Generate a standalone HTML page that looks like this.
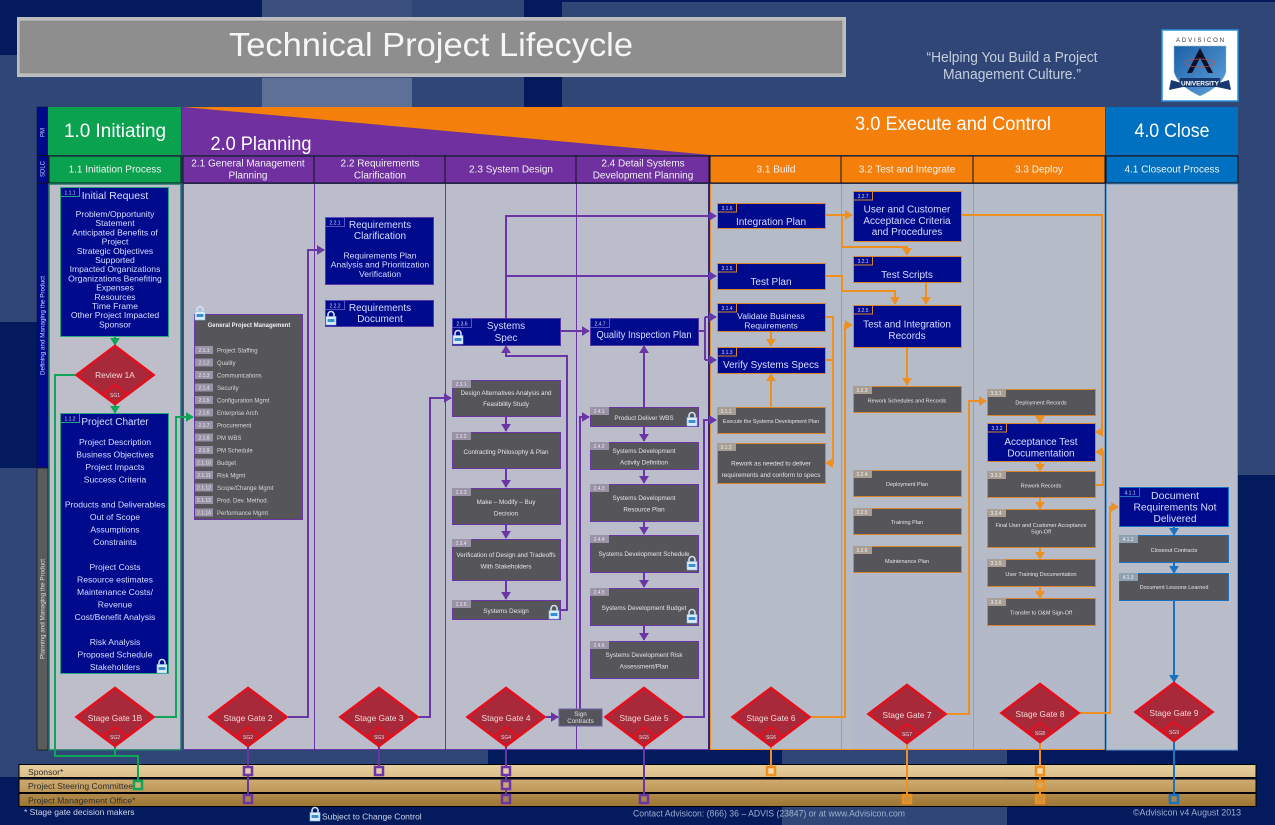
<!DOCTYPE html>
<html><head><meta charset="utf-8"><title>Technical Project Lifecycle</title>
<style>
html,body{margin:0;padding:0;background:#2f4676}
svg{display:block}
text{font-family:"Liberation Sans",sans-serif}
.c{text-anchor:middle}
.bt{fill:#d9ddff;font-size:10px;text-anchor:middle}
.bl{fill:#d9ddff;font-size:8.6px;text-anchor:middle}
.gt{fill:#e6e6e6;font-size:6.3px;text-anchor:middle}
.tg{fill:#d6d6f6;font-size:5px;text-anchor:middle}
.hd{fill:#f2f2f2;font-size:10px;text-anchor:middle}
.gl{fill:#f0d8d8;font-size:8.3px;text-anchor:middle}
.sg{fill:#f0d8d8;font-size:5px;text-anchor:middle}
.li{fill:#d8d8d8;font-size:6px}
.lane{fill:#2f2f2f;font-size:8.6px}
.gr{fill:none;stroke:#0fa65a;stroke-width:2}
.pu{fill:none;stroke:#6a35a5;stroke-width:2}
.or{fill:none;stroke:#ee8f22;stroke-width:2}
.bu{fill:none;stroke:#1b72c0;stroke-width:2}
</style></head>
<body>
<svg width="1275" height="825" viewBox="0 0 1275 825" xmlns="http://www.w3.org/2000/svg">
<defs>
<marker id="ag" markerWidth="4" markerHeight="5" refX="3.6" refY="2.5" orient="auto" markerUnits="strokeWidth"><path d="M0 0L4 2.5L0 5z" fill="#0fa65a"/></marker>
<marker id="ap" markerWidth="4" markerHeight="5" refX="3.6" refY="2.5" orient="auto" markerUnits="strokeWidth"><path d="M0 0L4 2.5L0 5z" fill="#6a35a5"/></marker>
<marker id="ao" markerWidth="4" markerHeight="5" refX="3.6" refY="2.5" orient="auto" markerUnits="strokeWidth"><path d="M0 0L4 2.5L0 5z" fill="#ee8f22"/></marker>
<marker id="ab" markerWidth="4" markerHeight="5" refX="3.6" refY="2.5" orient="auto" markerUnits="strokeWidth"><path d="M0 0L4 2.5L0 5z" fill="#1b72c0"/></marker>
<g id="gate">
<polygon points="-38.500,0 0,-29 38.500,0 0,29" fill="#a82a3a" stroke="#e2101e" stroke-width="2.6" stroke-linejoin="miter"/>
<polygon points="-11.500,19 0,10 11.500,19 0,29" fill="#a82a3a" stroke="#e2101e" stroke-width="2.2"/>
</g>
<g id="lock">
<path d="M-3-1V-3.5A3 3 0 0 1 3-3.5V-1" fill="none" stroke="#cfe2f5" stroke-width="1.6"/>
<rect x="-5" y="-1.5" width="10" height="8.5" fill="#dcebf8" stroke="#8cc0e8" stroke-width=".6"/>
<rect x="-3.4" y="1" width="6.8" height="3" fill="#3b8fd0"/>
</g>
<linearGradient id="bar1" x1="0" y1="0" x2="0" y2="1"><stop offset="0" stop-color="#e6cf9f"/><stop offset="1" stop-color="#dcc08a"/></linearGradient>
<linearGradient id="bar2" x1="0" y1="0" x2="0" y2="1"><stop offset="0" stop-color="#cfab72"/><stop offset="1" stop-color="#bd9757"/></linearGradient>
<linearGradient id="bar3" x1="0" y1="0" x2="0" y2="1"><stop offset="0" stop-color="#b28a4a"/><stop offset="1" stop-color="#9c7535"/></linearGradient>
<linearGradient id="shield" x1="0" y1="0" x2="1" y2="1"><stop offset="0" stop-color="#1d5fa8"/><stop offset="1" stop-color="#5fa3dc"/></linearGradient>
</defs>

<!-- background -->
<rect width="1275" height="825" fill="#2f4676"/>
<rect x="0" y="0" width="262" height="55" fill="#031a5c"/>
<rect x="262" y="0" width="150" height="78" fill="#3a4f7e"/>
<rect x="262" y="78" width="150" height="29" fill="#5f7096"/>
<rect x="524" y="0" width="38" height="107" fill="#031a5c"/>
<rect x="562" y="0" width="713" height="2" fill="#031a5c"/>
<rect x="0" y="322" width="37" height="146" fill="#031a5c"/>
<rect x="0" y="777" width="782" height="48" fill="#031a5c"/>
<rect x="488" y="750" width="294" height="30" fill="#031a5c"/>
<rect x="1007" y="750" width="268" height="75" fill="#031a5c"/>
<rect x="1238" y="475" width="37" height="280" fill="#031a5c"/>

<!-- title -->
<rect x="17" y="17" width="829" height="60" fill="#bdbdbd"/>
<rect x="20" y="21" width="822" height="52" fill="#8e8e8e" stroke="#808080" stroke-width=".5"/>
<text x="431" y="56" class="c" fill="#f6f6f6" font-size="33" textLength="404" lengthAdjust="spacingAndGlyphs">Technical Project Lifecycle</text>
<text x="1012" y="62" class="c" fill="#c6cede" font-size="14.5" textLength="171" lengthAdjust="spacingAndGlyphs">“Helping You Build a Project</text>
<text x="1012" y="79" class="c" fill="#c6cede" font-size="14.5" textLength="138" lengthAdjust="spacingAndGlyphs">Management Culture.”</text>

<!-- logo -->
<rect x="1162" y="30" width="76" height="71" fill="#fff" stroke="#2a8fd8" stroke-width="1.5"/>
<text x="1200" y="42" class="c" fill="#333" font-size="6" textLength="48">ADVISICON</text>
<path d="M1174 46H1226V72Q1222 86 1200 96Q1178 86 1174 72Z" fill="url(#shield)" stroke="#9bb" stroke-width=".5"/>
<polygon points="1200,48 1187,73 1192,73 1200,58 1208,73 1213,73" fill="#0b0f28"/>
<ellipse cx="1200" cy="63" rx="15" ry="4" fill="none" stroke="#c05050" stroke-width=".8"/>
<polygon points="1171,80 1185,84 1215,84 1229,80 1231,90 1217,87 1183,87 1169,90" fill="#16386e"/>
<rect x="1180" y="78" width="40" height="9" fill="#16386e"/>
<text x="1200" y="85.5" class="c" fill="#fff" font-size="6.5" font-weight="bold" textLength="38">UNIVERSITY</text>

<!-- left strip -->
<rect x="37" y="107" width="11" height="361" fill="#000a8a" stroke="#0a0a30" stroke-width=".5"/>
<rect x="37" y="468" width="11" height="282" fill="#5b5b5b" stroke="#1a1a1a" stroke-width=".8"/>
<line x1="37" y1="155.500" x2="48" y2="155.500" stroke="#111"/>
<line x1="37" y1="183" x2="48" y2="183" stroke="#111"/>
<text transform="translate(44.500,137) rotate(-90)" fill="#cfd3ff" font-size="6">PM</text>
<text transform="translate(44.500,177) rotate(-90)" fill="#cfd3ff" font-size="6">SDLC</text>
<text transform="translate(44.500,375) rotate(-90)" fill="#cfd3ff" font-size="6.4" textLength="99" lengthAdjust="spacingAndGlyphs">Defining and Managing the Product</text>
<text transform="translate(44.500,659) rotate(-90)" fill="#dcdcdc" font-size="6.4" textLength="100" lengthAdjust="spacingAndGlyphs">Planning and Managing the Product</text>

<!-- phase headers -->
<rect x="48" y="107" width="133" height="48" fill="#0aa14f"/>
<polygon points="182,107 1105,107 1105,155 710,155" fill="#f47f0a"/>
<polygon points="182,107 710,155 182,155" fill="#7030a0"/>
<rect x="1106" y="107" width="132" height="48" fill="#0070c0"/>
<text x="115" y="137" class="c" fill="#fff" font-size="19.500" textLength="102" lengthAdjust="spacingAndGlyphs">1.0 Initiating</text>
<text x="261" y="150" class="c" fill="#fff" font-size="19.500" textLength="101" lengthAdjust="spacingAndGlyphs">2.0 Planning</text>
<text x="953" y="130" class="c" fill="#fff" font-size="19" textLength="196" lengthAdjust="spacingAndGlyphs">3.0 Execute and Control</text>
<text x="1172" y="137" class="c" fill="#fff" font-size="19.500" textLength="75" lengthAdjust="spacingAndGlyphs">4.0 Close</text>

<!-- sub headers -->
<g stroke="#10101a" stroke-width="1">
<rect x="49" y="156" width="132" height="27" fill="#0aa14f"/>
<rect x="183" y="156" width="131" height="27" fill="#7030a0"/>
<rect x="314" y="156" width="131" height="27" fill="#7030a0"/>
<rect x="445" y="156" width="131" height="27" fill="#7030a0"/>
<rect x="576" y="156" width="133" height="27" fill="#7030a0"/>
<rect x="710" y="156" width="131" height="27" fill="#f47f0a"/>
<rect x="841" y="156" width="132" height="27" fill="#f47f0a"/>
<rect x="973" y="156" width="132" height="27" fill="#f47f0a"/>
<rect x="1106" y="156" width="132" height="27" fill="#0070c0"/>
</g>
<text x="115" y="172.500" class="hd">1.1 Initiation Process</text>
<text x="248" y="166.500" class="hd">2.1 General Management</text>
<text x="248" y="178.500" class="hd">Planning</text>
<text x="380" y="166.500" class="hd">2.2 Requirements</text>
<text x="380" y="178.500" class="hd">Clarification</text>
<text x="511" y="172.500" class="hd">2.3 System Design</text>
<text x="643" y="166.500" class="hd">2.4 Detail Systems</text>
<text x="643" y="178.500" class="hd">Development Planning</text>
<text x="776" y="172.500" class="hd">3.1 Build</text>
<text x="907" y="172.500" class="hd">3.2 Test and Integrate</text>
<text x="1039" y="172.500" class="hd">3.3 Deploy</text>
<text x="1172" y="172.500" class="hd">4.1 Closeout Process</text>

<!-- panels -->
<rect x="49" y="184" width="132" height="566" fill="#bdbec9" stroke="#1d7a6a" stroke-width="1.500"/>
<rect x="183" y="184" width="526" height="566" fill="#bcbdca"/>
<rect x="710" y="184" width="395" height="566" fill="#b6bbc8"/>
<rect x="1106" y="184" width="132" height="566" fill="#b9bcc9"/>
<rect x="853" y="560" width="252" height="190" fill="#b0b8c8" opacity=".5"/>
<g fill="none" stroke-width="1">
<line x1="183.500" y1="184" x2="183.500" y2="750" stroke="#6a35a5"/>
<line x1="183" y1="749.500" x2="709" y2="749.500" stroke="#6a35a5"/>
<line x1="314.500" y1="184" x2="314.500" y2="750" stroke="#6a35a5"/>
<line x1="445.500" y1="184" x2="445.500" y2="750" stroke="#6a35a5"/>
<line x1="576.500" y1="184" x2="576.500" y2="750" stroke="#6a35a5"/>
<line x1="709" y1="184" x2="709" y2="750" stroke="#2a2580" stroke-width="2"/>
<line x1="710.500" y1="184" x2="710.500" y2="750" stroke="#ee8f22"/>
<line x1="841.500" y1="184" x2="841.500" y2="750" stroke="#ee8f22"/>
<line x1="973.500" y1="184" x2="973.500" y2="750" stroke="#ee8f22"/>
<line x1="710" y1="749.500" x2="1105" y2="749.500" stroke="#ee8f22"/>
<line x1="1105.500" y1="184" x2="1105.500" y2="750" stroke="#303a50" stroke-width="1.500"/>
<rect x="1106.500" y="184" width="131" height="566" stroke="#5da0d8"/>
</g>

<!-- swimlanes -->
<rect x="19" y="764.500" width="1237" height="13" fill="url(#bar1)" stroke="#000"/>
<rect x="19" y="779" width="1237" height="13.500" fill="url(#bar2)" stroke="#000"/>
<rect x="19" y="793.500" width="1237" height="13" fill="url(#bar3)" stroke="#000"/>
<text x="28" y="775" class="lane">Sponsor*</text>
<text x="28" y="789" class="lane">Project Steering Committee*</text>
<text x="28" y="803.500" class="lane">Project Management Office*</text>

<!-- connectors -->
<g class="gr">
<path d="M115 336V345" class="gr" marker-end="url(#ag)"/>
<path d="M115 405V413" class="gr" marker-end="url(#ag)"/>
<path d="M75 375H55V756H138V780" class="gr"/>
<path d="M115 747V756" class="gr"/>
<path d="M155 717H176V417H193" class="gr" marker-end="url(#ag)"/>
</g>
<g>
<path d="M248 747V799" class="pu"/>
<path d="M379 747V771" class="pu"/>
<path d="M506 747V799" class="pu"/>
<path d="M644 747V799" class="pu"/>
<path d="M288 717H308V250H324" class="pu" marker-end="url(#ap)"/>
<path d="M419 717H430V398H451" class="pu" marker-end="url(#ap)"/>
<path d="M546 717H558" class="pu" marker-end="url(#ap)"/>
<path d="M580 709V417H589" class="pu" marker-end="url(#ap)"/>
<path d="M684 717H704V420H716" class="pu" marker-end="url(#ap)"/>
<path d="M506 318V216H716" class="pu" marker-end="url(#ap)"/>
<path d="M506 276H716" class="pu" marker-end="url(#ap)"/>
<path d="M561 331H589" class="pu" marker-end="url(#ap)"/>
<path d="M699 331H705" class="pu"/>
<path d="M705 317V360" class="pu"/>
<path d="M705 317H716" class="pu" marker-end="url(#ap)"/>
<path d="M705 360H716" class="pu" marker-end="url(#ap)"/>
<path d="M561 610H567V356H506V346" class="pu" marker-end="url(#ap)"/>
<path d="M506 416V431" class="pu" marker-end="url(#ap)"/>
<path d="M506 468V487" class="pu" marker-end="url(#ap)"/>
<path d="M506 524V538" class="pu" marker-end="url(#ap)"/>
<path d="M506 580V599" class="pu" marker-end="url(#ap)"/>
<path d="M644 407V346" class="pu" marker-end="url(#ap)"/>
<path d="M644 345V350" class="pu"/>
<path d="M644 427V441" class="pu" marker-end="url(#ap)"/>
<path d="M644 469V483" class="pu" marker-end="url(#ap)"/>
<path d="M644 521V534" class="pu" marker-end="url(#ap)"/>
<path d="M644 572V587" class="pu" marker-end="url(#ap)"/>
<path d="M644 625V640" class="pu" marker-end="url(#ap)"/>
</g>
<g>
<path d="M771 747V771" class="or"/>
<path d="M907 744V799" class="or"/>
<path d="M1040 743V799" class="or"/>
<path d="M771 331V346" class="or" marker-end="url(#ao)"/>
<path d="M771 407V374" class="or" marker-end="url(#ao)"/>
<path d="M825 215H852" class="or" marker-end="url(#ao)"/>
<path d="M842 215V247H907V255" class="or" marker-end="url(#ao)"/>
<path d="M825 276H842V291H895V304" class="or" marker-end="url(#ao)"/>
<path d="M926 282V304" class="or" marker-end="url(#ao)"/>
<path d="M825 317H833V463H826" class="or" marker-end="url(#ao)"/>
<path d="M825 360H833" class="or"/>
<path d="M811 717H845V325H852" class="or" marker-end="url(#ao)"/>
<path d="M947 714H969V401H986" class="or" marker-end="url(#ao)"/>
<path d="M1080 713H1110V507H1118" class="or" marker-end="url(#ao)"/>
<path d="M907 347V385" class="or" marker-end="url(#ao)"/>
<path d="M961 215H1102V432H1096" class="or" marker-end="url(#ao)"/>
<path d="M1095 485H1103V452H1096" class="or" marker-end="url(#ao)"/>
<path d="M1040 415V423" class="or" marker-end="url(#ao)"/>
<path d="M1040 461V471" class="or" marker-end="url(#ao)"/>
<path d="M1040 497V509" class="or" marker-end="url(#ao)"/>
<path d="M1040 547V559" class="or" marker-end="url(#ao)"/>
<path d="M1040 586V598" class="or" marker-end="url(#ao)"/>
</g>
<g>
<path d="M1174 526V535" class="bu" marker-end="url(#ab)"/>
<path d="M1174 562V573" class="bu" marker-end="url(#ab)"/>
<path d="M1174 600V682" class="bu" marker-end="url(#ab)"/>
<path d="M1174 741V799" class="bu"/>
</g>

<!-- lane squares -->
<g stroke-width="2.500">
<rect x="134" y="781" width="8" height="8" fill="#cdb27a" stroke="#0fa65a"/>
<g stroke="#6a35a5">
<rect x="244" y="767" width="8" height="8" fill="#e2c8b0"/><rect x="244" y="795" width="8" height="8" fill="#a8824c"/>
<rect x="375" y="767" width="8" height="8" fill="#e2c8b0"/>
<rect x="502" y="767" width="8" height="8" fill="#e2c8b0"/><rect x="502" y="781" width="8" height="8" fill="#c8a878"/><rect x="502" y="795" width="8" height="8" fill="#a8824c"/>
<rect x="640" y="795" width="8" height="8" fill="#a8824c"/>
</g>
<g stroke="#ee8f22">
<rect x="767" y="767" width="8" height="8" fill="#f0d8a8"/>
<rect x="903" y="795" width="8" height="8" fill="#c8923e"/>
<rect x="1036" y="767" width="8" height="8" fill="#f0d8a8"/><rect x="1036" y="781" width="8" height="8" fill="#d0a860"/><rect x="1036" y="795" width="8" height="8" fill="#c8923e"/>
</g>
<rect x="1170" y="795" width="8" height="8" stroke="#1b72c0" fill="#a8824c"/>
</g>

<!-- gates -->
<use href="#gate" transform="translate(115,375)"/>
<use href="#gate" transform="translate(115,717)"/>
<use href="#gate" transform="translate(248,717)"/>
<use href="#gate" transform="translate(379,717)"/>
<use href="#gate" transform="translate(506,717)"/>
<use href="#gate" transform="translate(644,717)"/>
<use href="#gate" transform="translate(771,717)"/>
<use href="#gate" transform="translate(907,714)"/>
<use href="#gate" transform="translate(1040,713)"/>
<use href="#gate" transform="translate(1174,712)"/>
<text x="115" y="378" class="gl">Review 1A</text><text x="115" y="397" class="sg">SG1</text>
<text x="115" y="721" class="gl">Stage Gate 1B</text><text x="115" y="739" class="sg">SG2</text>
<text x="248" y="721" class="gl">Stage Gate 2</text><text x="248" y="739" class="sg">SG2</text>
<text x="379" y="721" class="gl">Stage Gate 3</text><text x="379" y="739" class="sg">SG3</text>
<text x="506" y="721" class="gl">Stage Gate 4</text><text x="506" y="739" class="sg">SG4</text>
<text x="644" y="721" class="gl">Stage Gate 5</text><text x="644" y="739" class="sg">SG5</text>
<text x="771" y="721" class="gl">Stage Gate 6</text><text x="771" y="739" class="sg">SG6</text>
<text x="907" y="718" class="gl">Stage Gate 7</text><text x="907" y="736" class="sg">SG7</text>
<text x="1040" y="717" class="gl">Stage Gate 8</text><text x="1040" y="735" class="sg">SG8</text>
<text x="1174" y="716" class="gl">Stage Gate 9</text><text x="1174" y="734" class="sg">SG9</text>

<!-- sign contracts -->
<rect x="559" y="709" width="43" height="17" fill="#55545c" stroke="#6a5fa5"/>
<text x="580.500" y="716" class="gt" style="font-size:6.200px">Sign</text>
<text x="580.500" y="723" class="gt" style="font-size:6.200px">Contracts</text>

<!-- green boxes -->
<rect x="60.500" y="187.500" width="108" height="149" fill="#000a8c" stroke="#2aa57e"/>
<rect x="60.500" y="187.500" width="19" height="9" fill="none" stroke="#2aa57e"/>
<text x="70" y="194.500" class="tg">1.1.1</text>
<text x="115" y="199" class="bt" style="font-size:10.500px">Initial Request</text>
<text x="115" y="217" class="bl">Problem/Opportunity</text>
<text x="115" y="226.200" class="bl">Statement</text>
<text x="115" y="235.400" class="bl">Anticipated Benefits of</text>
<text x="115" y="244.600" class="bl">Project</text>
<text x="115" y="253.800" class="bl">Strategic Objectives</text>
<text x="115" y="263" class="bl">Supported</text>
<text x="115" y="272.200" class="bl">Impacted Organizations</text>
<text x="115" y="281.400" class="bl">Organizations Benefiting</text>
<text x="115" y="290.600" class="bl">Expenses</text>
<text x="115" y="299.800" class="bl">Resources</text>
<text x="115" y="309" class="bl">Time Frame</text>
<text x="115" y="318.200" class="bl">Other Project Impacted</text>
<text x="115" y="327.400" class="bl">Sponsor</text>

<rect x="60.500" y="413.500" width="108" height="260" fill="#000a8c" stroke="#2aa57e"/>
<rect x="60.500" y="413.500" width="19" height="9" fill="none" stroke="#2aa57e"/>
<text x="70" y="420.500" class="tg">1.1.2</text>
<text x="115" y="425" class="bt">Project Charter</text>
<text x="115" y="445" class="bl">Project Description</text>
<text x="115" y="457.500" class="bl">Business Objectives</text>
<text x="115" y="470" class="bl">Project Impacts</text>
<text x="115" y="482.500" class="bl">Success Criteria</text>
<text x="115" y="507.500" class="bl">Products and Deliverables</text>
<text x="115" y="520" class="bl">Out of Scope</text>
<text x="115" y="532.500" class="bl">Assumptions</text>
<text x="115" y="545" class="bl">Constraints</text>
<text x="115" y="570" class="bl">Project Costs</text>
<text x="115" y="582.500" class="bl">Resource estimates</text>
<text x="115" y="595" class="bl">Maintenance Costs/</text>
<text x="115" y="607.500" class="bl">Revenue</text>
<text x="115" y="620" class="bl">Cost/Benefit Analysis</text>
<text x="115" y="645" class="bl">Risk Analysis</text>
<text x="115" y="657.500" class="bl">Proposed Schedule</text>
<text x="115" y="670" class="bl">Stakeholders</text>
<use href="#lock" transform="translate(162,666)"/>

<!-- general PM -->
<rect x="194.500" y="314.500" width="108" height="205" fill="#565559" stroke="#6a35a5"/>
<use href="#lock" transform="translate(200,313)"/>
<text x="249" y="327" class="c" fill="#eee" font-size="6" font-weight="bold">General Project Management</text>
<g fill="#9a93a8">
<rect x="195" y="346" width="18" height="8"/><rect x="195" y="358.500" width="18" height="8"/><rect x="195" y="371" width="18" height="8"/><rect x="195" y="383.500" width="18" height="8"/><rect x="195" y="396" width="18" height="8"/><rect x="195" y="408.500" width="18" height="8"/><rect x="195" y="421" width="18" height="8"/><rect x="195" y="433.500" width="18" height="8"/><rect x="195" y="446" width="18" height="8"/><rect x="195" y="458.500" width="18" height="8"/><rect x="195" y="471" width="18" height="8"/><rect x="195" y="483.500" width="18" height="8"/><rect x="195" y="496" width="18" height="8"/><rect x="195" y="508.500" width="18" height="8"/>
</g>
<g class="tg" style="fill:#e8e8e8">
<text x="204" y="352">2.1.1</text><text x="204" y="364.500">2.1.2</text><text x="204" y="377">2.1.3</text><text x="204" y="389.500">2.1.4</text><text x="204" y="402">2.1.5</text><text x="204" y="414.500">2.1.6</text><text x="204" y="427">2.1.7</text><text x="204" y="439.500">2.1.8</text><text x="204" y="452">2.1.9</text><text x="204" y="464.500">2.1.10</text><text x="204" y="477">2.1.11</text><text x="204" y="489.500">2.1.12</text><text x="204" y="502">2.1.13</text><text x="204" y="514.500">2.1.14</text>
</g>
<g class="li">
<text x="217" y="352.500">Project Staffing</text><text x="217" y="365">Quality</text><text x="217" y="377.500">Communications</text><text x="217" y="390">Security</text><text x="217" y="402.500">Configuration Mgmt</text><text x="217" y="415">Enterprise Arch</text><text x="217" y="427.500">Procurement</text><text x="217" y="440">PM WBS</text><text x="217" y="452.500">PM Schedule</text><text x="217" y="465">Budget</text><text x="217" y="477.500">Risk Mgmt</text><text x="217" y="490">Scope/Change Mgmt</text><text x="217" y="502.500">Prod. Dev. Method.</text><text x="217" y="515">Performance Mgmt</text>
</g>

<!-- purple blue boxes -->
<g fill="#000a8c" stroke="#5a35a5">
<rect x="325.500" y="217.500" width="108" height="67"/>
<rect x="325.500" y="300.500" width="108" height="26"/>
<rect x="452.500" y="318.500" width="108" height="27"/>
<rect x="590.500" y="318.500" width="108" height="27"/>
</g>
<g fill="none" stroke="#5a50c5">
<rect x="325.500" y="217.500" width="19" height="9"/><rect x="325.500" y="300.500" width="19" height="9"/><rect x="452.500" y="318.500" width="19" height="9"/><rect x="590.500" y="318.500" width="19" height="9"/>
</g>
<text x="335" y="224.500" class="tg">2.2.1</text><text x="335" y="307.500" class="tg">2.2.2</text><text x="462" y="325.500" class="tg">2.3.6</text><text x="600" y="325.500" class="tg">2.4.7</text>
<text x="380" y="228" class="bt">Requirements</text>
<text x="380" y="239" class="bt">Clarification</text>
<text x="380" y="258.500" class="bl">Requirements Plan</text>
<text x="380" y="267.500" class="bl">Analysis and Prioritization</text>
<text x="380" y="277" class="bl">Verification</text>
<text x="380" y="311" class="bt">Requirements</text>
<text x="380" y="322" class="bt">Document</text>
<use href="#lock" transform="translate(331,318)"/>
<text x="506" y="329" class="bt">Systems</text>
<text x="506" y="341" class="bt">Spec</text>
<use href="#lock" transform="translate(458,337)"/>
<text x="644" y="338" class="bt" textLength="95" lengthAdjust="spacingAndGlyphs">Quality Inspection Plan</text>

<!-- purple gray boxes -->
<g fill="#565559" stroke="#6a35a5">
<rect x="452.500" y="380.500" width="108" height="36"/>
<rect x="452.500" y="432.500" width="108" height="36"/>
<rect x="452.500" y="488.500" width="108" height="36"/>
<rect x="452.500" y="539.500" width="108" height="41"/>
<rect x="452.500" y="600.500" width="108" height="19"/>
<rect x="590.500" y="407.500" width="108" height="19"/>
<rect x="590.500" y="442.500" width="108" height="27"/>
<rect x="590.500" y="484.500" width="108" height="37"/>
<rect x="590.500" y="535.500" width="108" height="37"/>
<rect x="590.500" y="588.500" width="108" height="37"/>
<rect x="590.500" y="641.500" width="108" height="37"/>
</g>
<g fill="#9a93a8">
<rect x="452" y="380" width="19" height="8"/><rect x="452" y="432" width="19" height="8"/><rect x="452" y="488" width="19" height="8"/><rect x="452" y="539" width="19" height="8"/><rect x="452" y="600" width="19" height="8"/>
<rect x="590" y="407" width="19" height="8"/><rect x="590" y="442" width="19" height="8"/><rect x="590" y="484" width="19" height="8"/><rect x="590" y="535" width="19" height="8"/><rect x="590" y="588" width="19" height="8"/><rect x="590" y="641" width="19" height="8"/>
</g>
<g class="tg" style="fill:#e8e8e8">
<text x="461" y="386">2.3.1</text><text x="461" y="438">2.3.2</text><text x="461" y="494">2.3.3</text><text x="461" y="545">2.3.4</text><text x="461" y="606">2.3.5</text>
<text x="599" y="413">2.4.1</text><text x="599" y="448">2.4.2</text><text x="599" y="490">2.4.3</text><text x="599" y="541">2.4.4</text><text x="599" y="594">2.4.5</text><text x="599" y="647">2.4.6</text>
</g>
<text x="506" y="395" class="gt">Design Alternatives Analysis and</text>
<text x="506" y="406" class="gt">Feasibility Study</text>
<text x="506" y="454" class="gt">Contracting Philosophy &amp; Plan</text>
<text x="506" y="504" class="gt">Make – Modify – Buy</text>
<text x="506" y="515.500" class="gt">Decision</text>
<text x="506" y="557" class="gt">Verification of Design and Tradeoffs</text>
<text x="506" y="568.500" class="gt">With Stakeholders</text>
<text x="506" y="613" class="gt">Systems Design</text>
<use href="#lock" transform="translate(554,612)"/>
<text x="644" y="420" class="gt">Product Deliver WBS</text>
<use href="#lock" transform="translate(692,419)"/>
<text x="644" y="453" class="gt">Systems Development</text>
<text x="644" y="464.500" class="gt">Activity Definition</text>
<text x="644" y="500" class="gt">Systems Development</text>
<text x="644" y="511.500" class="gt">Resource Plan</text>
<text x="644" y="556" class="gt">Systems Development Schedule</text>
<use href="#lock" transform="translate(692,563)"/>
<text x="644" y="610" class="gt">Systems Development Budget</text>
<use href="#lock" transform="translate(692,616)"/>
<text x="644" y="657" class="gt">Systems Development Risk</text>
<text x="644" y="668.500" class="gt">Assessment/Plan</text>

<!-- orange blue boxes -->
<g fill="#000a8c" stroke="#d8852c">
<rect x="717.500" y="203.500" width="108" height="25"/>
<rect x="717.500" y="263.500" width="108" height="26"/>
<rect x="717.500" y="303.500" width="108" height="28"/>
<rect x="717.500" y="347.500" width="108" height="26"/>
<rect x="853.500" y="191.500" width="108" height="50"/>
<rect x="853.500" y="256.500" width="108" height="26"/>
<rect x="853.500" y="305.500" width="108" height="42"/>
<rect x="987.500" y="423.500" width="108" height="38"/>
</g>
<g fill="none" stroke="#d8852c">
<rect x="717.500" y="203.500" width="19" height="8.500"/><rect x="717.500" y="263.500" width="19" height="8.500"/><rect x="717.500" y="303.500" width="19" height="8.500"/><rect x="717.500" y="347.500" width="19" height="8.500"/>
<rect x="853.500" y="191.500" width="19" height="8.500"/><rect x="853.500" y="256.500" width="19" height="8.500"/><rect x="853.500" y="305.500" width="19" height="8.500"/><rect x="987.500" y="423.500" width="19" height="8.500"/>
</g>
<g class="tg">
<text x="727" y="210">3.1.6</text><text x="727" y="270">3.1.5</text><text x="727" y="310">3.1.4</text><text x="727" y="354">3.1.3</text>
<text x="863" y="198">3.2.7</text><text x="863" y="263">3.2.1</text><text x="863" y="312">3.2.5</text><text x="997" y="430">3.3.2</text>
</g>
<text x="771" y="225" class="bt">Integration Plan</text>
<text x="771" y="285" class="bt">Test Plan</text>
<text x="771" y="319" class="bl">Validate Business</text>
<text x="771" y="328.500" class="bl">Requirements</text>
<text x="771" y="368" class="bt" textLength="96" lengthAdjust="spacingAndGlyphs">Verify Systems Specs</text>
<text x="907" y="212.500" class="bt">User and Customer</text>
<text x="907" y="224" class="bt">Acceptance Criteria</text>
<text x="907" y="235" class="bt">and Procedures</text>
<text x="907" y="278" class="bt">Test Scripts</text>
<text x="907" y="327.500" class="bt">Test and Integration</text>
<text x="907" y="339" class="bt">Records</text>
<text x="1041" y="445" class="bt">Acceptance Test</text>
<text x="1041" y="456.500" class="bt">Documentation</text>

<!-- orange gray boxes -->
<g fill="#565559" stroke="#d8852c">
<rect x="717.500" y="407.500" width="108" height="26"/>
<rect x="717.500" y="443.500" width="108" height="40"/>
<rect x="853.500" y="386.500" width="108" height="26"/>
<rect x="853.500" y="470.500" width="108" height="26"/>
<rect x="853.500" y="508.500" width="108" height="26"/>
<rect x="853.500" y="546.500" width="108" height="26"/>
<rect x="987.500" y="389.500" width="108" height="26"/>
<rect x="987.500" y="471.500" width="108" height="26"/>
<rect x="987.500" y="509.500" width="108" height="38"/>
<rect x="987.500" y="559.500" width="108" height="27"/>
<rect x="987.500" y="598.500" width="108" height="27"/>
</g>
<g fill="#a89e94">
<rect x="717" y="407" width="19" height="8"/><rect x="717" y="443" width="19" height="8"/><rect x="853" y="386" width="19" height="8"/><rect x="853" y="470" width="19" height="8"/><rect x="853" y="508" width="19" height="8"/><rect x="853" y="546" width="19" height="8"/><rect x="987" y="389" width="19" height="8"/><rect x="987" y="471" width="19" height="8"/><rect x="987" y="509" width="19" height="8"/><rect x="987" y="559" width="19" height="8"/><rect x="987" y="598" width="19" height="8"/>
</g>
<g class="tg" style="fill:#f0f0f0">
<text x="726" y="413">3.1.1</text><text x="726" y="449">3.1.2</text><text x="862" y="392">3.2.3</text><text x="862" y="476">3.2.4</text><text x="862" y="514">3.2.5</text><text x="862" y="552">3.2.6</text><text x="996" y="395">3.3.1</text><text x="996" y="477">3.3.3</text><text x="996" y="515">3.3.4</text><text x="996" y="565">3.3.5</text><text x="996" y="604">3.3.6</text>
</g>
<text x="771" y="423" class="gt" style="font-size:5.400px">Execute the Systems Development Plan</text>
<text x="771" y="465.500" class="gt">Rework as needed to deliver</text>
<text x="771" y="477" class="gt">requirements and conform to specs</text>
<text x="907" y="402.500" class="gt" style="font-size:5.500px">Rework Schedules and Records</text>
<text x="907" y="486" class="gt" style="font-size:5.500px">Deployment Plan</text>
<text x="907" y="524" class="gt" style="font-size:5.500px">Training Plan</text>
<text x="907" y="563" class="gt" style="font-size:5.500px">Maintenance Plan</text>
<text x="1041" y="404.500" class="gt" style="font-size:5.500px">Deployment Records</text>
<text x="1041" y="487.500" class="gt" style="font-size:5.500px">Rework Records</text>
<text x="1041" y="527" class="gt" style="font-size:5.500px">Final User and Customer Acceptance</text>
<text x="1041" y="533.500" class="gt" style="font-size:5.500px">Sign-Off</text>
<text x="1041" y="576" class="gt" style="font-size:5.500px">User Training Documentation</text>
<text x="1041" y="614.500" class="gt" style="font-size:5.500px">Transfer to O&amp;M Sign-Off</text>

<!-- close boxes -->
<rect x="1119.500" y="487.500" width="109" height="39" fill="#000a8c" stroke="#1b72c0"/>
<rect x="1119.500" y="487.500" width="20" height="9" fill="none" stroke="#1b72c0"/>
<text x="1130" y="494.500" class="tg">4.1.1</text>
<text x="1175" y="499" class="bt" textLength="48" lengthAdjust="spacingAndGlyphs">Document</text>
<text x="1175" y="510.500" class="bt" textLength="83" lengthAdjust="spacingAndGlyphs">Requirements Not</text>
<text x="1175" y="522" class="bt" textLength="43" lengthAdjust="spacingAndGlyphs">Delivered</text>
<g fill="#565559" stroke="#1b72c0">
<rect x="1119.500" y="535.500" width="109" height="27"/>
<rect x="1119.500" y="573.500" width="109" height="27"/>
</g>
<rect x="1119" y="535" width="19" height="8" fill="#8fa0b0"/>
<rect x="1119" y="573" width="19" height="8" fill="#8fa0b0"/>
<text x="1128" y="541" class="tg" style="fill:#f0f0f0">4.1.2</text>
<text x="1128" y="579" class="tg" style="fill:#f0f0f0">4.1.3</text>
<text x="1174" y="552" class="gt" style="font-size:5.500px">Closeout Contracts</text>
<text x="1174" y="589" class="gt" style="font-size:5.500px">Document Lessons Learned</text>

<!-- footer -->
<text x="24" y="815" fill="#cfd6ea" font-size="8.500">* Stage gate decision makers</text>
<use href="#lock" transform="translate(315,814)"/>
<text x="322" y="819.500" fill="#cfd6ea" font-size="8.500">Subject to Change Control</text>
<text x="633" y="816.500" fill="#9fb0d2" font-size="9.500" textLength="272" lengthAdjust="spacingAndGlyphs">Contact Advisicon: (866) 36 – ADVIS (23847) or at www.Advisicon.com</text>
<text x="1133" y="815.500" fill="#9fb0d2" font-size="9.500" textLength="108" lengthAdjust="spacingAndGlyphs">©Advisicon v4 August 2013</text>
</svg>
</body></html>
